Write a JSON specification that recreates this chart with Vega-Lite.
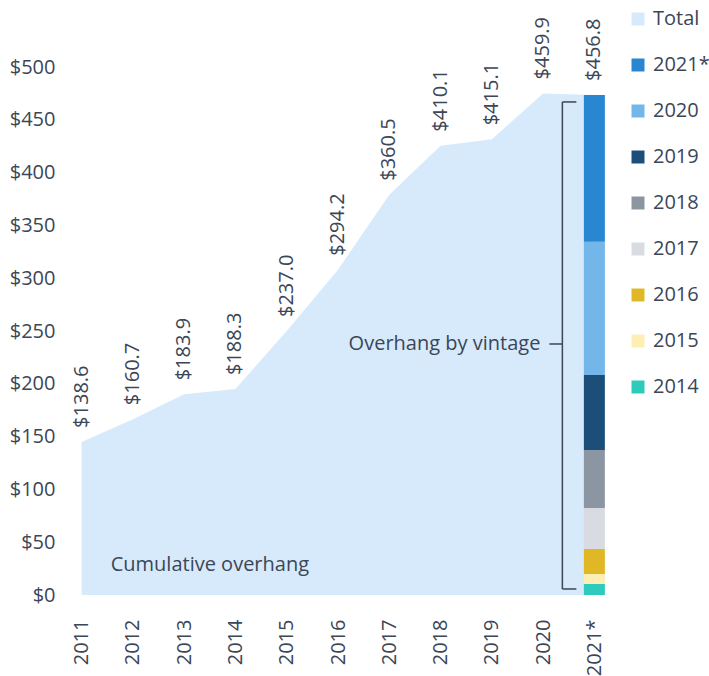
{
  "$schema": "https://vega.github.io/schema/vega-lite/v6.json",
  "width": 564,
  "height": 528,
  "autosize": "none",
  "padding": {"left": 56, "top": 67, "right": 89, "bottom": 81},
  "background": "white",
  "config": {
    "view": {"stroke": null},
    "font": "Open Sans",
    "text": {"color": "#3B4657", "fontSize": 20}
  },
  "datasets": {
    "total": [
      {"year": 2011, "value": 145.0, "label": "$138.6", "series": "Total"},
      {"year": 2012, "value": 166.5, "label": "$160.7", "series": "Total"},
      {"year": 2013, "value": 190.0, "label": "$183.9", "series": "Total"},
      {"year": 2014, "value": 195.0, "label": "$188.3", "series": "Total"},
      {"year": 2015, "value": 250.0, "label": "$237.0", "series": "Total"},
      {"year": 2016, "value": 308.0, "label": "$294.2", "series": "Total"},
      {"year": 2017, "value": 379.0, "label": "$360.5", "series": "Total"},
      {"year": 2018, "value": 425.5, "label": "$410.1", "series": "Total"},
      {"year": 2019, "value": 431.5, "label": "$415.1", "series": "Total"},
      {"year": 2020, "value": 475.0, "label": "$459.9", "series": "Total"},
      {"year": 2021, "value": 473.5, "label": "$456.8", "series": "Total"}
    ],
    "vintage": [
      {"year": 2021, "vintage": "2014", "vintage_year": 2014, "value": 10.4},
      {"year": 2021, "vintage": "2015", "vintage_year": 2015, "value": 9.5},
      {"year": 2021, "vintage": "2016", "vintage_year": 2016, "value": 23.7},
      {"year": 2021, "vintage": "2017", "vintage_year": 2017, "value": 38.8},
      {"year": 2021, "vintage": "2018", "vintage_year": 2018, "value": 54.9},
      {"year": 2021, "vintage": "2019", "vintage_year": 2019, "value": 71.0},
      {"year": 2021, "vintage": "2020", "vintage_year": 2020, "value": 126.2},
      {"year": 2021, "vintage": "2021*", "vintage_year": 2021, "value": 138.9}
    ],
    "bracket": [
      {"x": 2020.376, "x2": 2020.376, "y": 5.7, "y2": 466.9},
      {"x": 2020.376, "x2": 2020.649, "y": 466.9, "y2": 466.9},
      {"x": 2020.376, "x2": 2020.649, "y": 5.7, "y2": 5.7},
      {"x": 2020.123, "x2": 2020.376, "y": 237.7, "y2": 237.7}
    ],
    "note_right": [
      {"x": 2019.947, "y": 238.0, "text": "Overhang by vintage"}
    ],
    "note_left": [
      {"x": 2011.567, "y": 28.4, "text": "Cumulative overhang"}
    ]
  },
  "layer": [
    {
      "data": {"name": "total"},
      "mark": {"type": "area", "opacity": 1},
      "encoding": {
        "x": {
          "field": "year", "type": "quantitative",
          "scale": {"domain": [2010.5, 2021.5], "nice": false, "zero": false, "padding": 0},
          "axis": {
            "title": null,
            "values": [2011, 2012, 2013, 2014, 2015, 2016, 2017, 2018, 2019, 2020, 2021],
            "labelExpr": "datum.value == 2021 ? '2021*' : '' + datum.value",
            "labelAngle": 270,
            "labelPadding": 24,
            "labelFontSize": 20,
            "labelColor": "#3B4657",
            "ticks": false,
            "domain": false,
            "grid": false
          }
        },
        "y": {
          "field": "value", "type": "quantitative",
          "stack": null,
          "scale": {"domain": [0, 500], "nice": false, "padding": 0},
          "axis": {
            "title": null,
            "values": [0, 50, 100, 150, 200, 250, 300, 350, 400, 450, 500],
            "labelExpr": "'$' + datum.value",
            "labelPadding": 1,
            "labelFontSize": 20,
            "labelColor": "#3B4657",
            "ticks": false,
            "domain": false,
            "grid": false
          }
        },
        "color": {
          "field": "series", "type": "nominal",
          "scale": {
            "domain": ["Total", "2021*", "2020", "2019", "2018", "2017", "2016", "2015", "2014"],
            "range": ["#D6EAFC", "#2986D1", "#72B6EA", "#1B4F7A", "#8C96A3", "#D8DCE2", "#E0B826", "#FDEEB3", "#2ECABB"]
          },
          "legend": {
            "title": null,
            "orient": "none",
            "legendX": 572,
            "legendY": -58,
            "direction": "vertical",
            "symbolType": "square",
            "symbolSize": 169,
            "symbolStrokeWidth": 0,
            "symbolOpacity": 1,
            "labelFontSize": 20,
            "labelColor": "#3B4657",
            "labelOffset": 5,
            "rowPadding": 26,
            "padding": 0
          }
        }
      }
    },
    {
      "data": {"name": "vintage"},
      "mark": {"type": "bar", "width": 21},
      "encoding": {
        "x": {"field": "year", "type": "quantitative"},
        "y": {"field": "value", "type": "quantitative", "stack": "zero"},
        "color": {"field": "vintage", "type": "nominal"},
        "order": {"field": "vintage_year", "type": "quantitative", "sort": "ascending"}
      }
    },
    {
      "data": {"name": "total"},
      "mark": {"type": "text", "angle": 270, "align": "left", "baseline": "middle", "dx": 14, "fontSize": 20, "color": "#3B4657"},
      "encoding": {
        "x": {"field": "year", "type": "quantitative"},
        "y": {"field": "value", "type": "quantitative"},
        "text": {"field": "label"}
      }
    },
    {
      "data": {"name": "bracket"},
      "mark": {"type": "rule", "color": "#3B4657", "strokeWidth": 1.5},
      "encoding": {
        "x": {"field": "x", "type": "quantitative"},
        "x2": {"field": "x2"},
        "y": {"field": "y", "type": "quantitative"},
        "y2": {"field": "y2"}
      }
    },
    {
      "data": {"name": "note_right"},
      "mark": {"type": "text", "align": "right", "baseline": "middle", "fontSize": 20, "color": "#3B4657"},
      "encoding": {
        "x": {"field": "x", "type": "quantitative"},
        "y": {"field": "y", "type": "quantitative"},
        "text": {"field": "text"}
      }
    },
    {
      "data": {"name": "note_left"},
      "mark": {"type": "text", "align": "left", "baseline": "middle", "fontSize": 20, "color": "#3B4657"},
      "encoding": {
        "x": {"field": "x", "type": "quantitative"},
        "y": {"field": "y", "type": "quantitative"},
        "text": {"field": "text"}
      }
    }
  ]
}
